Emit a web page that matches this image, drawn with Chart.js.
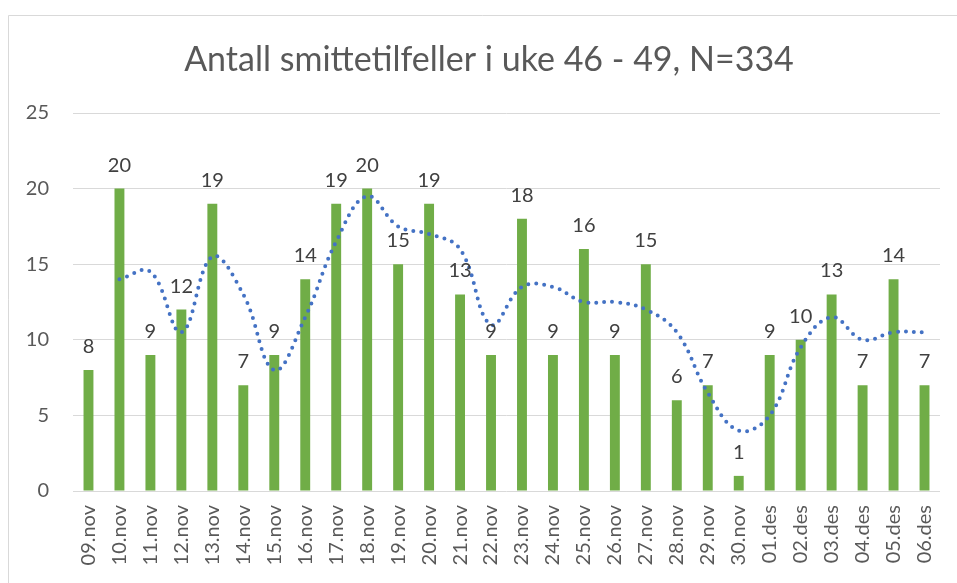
<!DOCTYPE html>
<html>
<head>
<meta charset="utf-8">
<script src="https://cdn.jsdelivr.net/npm/chart.js@4/dist/chart.umd.min.js"></script>
<style>
html,body{margin:0;padding:0;background:#fff;}
#wrap{position:relative;width:957px;height:583px;}
</style>
</head>
<body>
<div id="wrap"><canvas id="c" width="957" height="583"></canvas></div>
<script>
const titleText = "Antall smittetilfeller i uke 46 - 49, N=334";
const categories = ["09.nov","10.nov","11.nov","12.nov","13.nov","14.nov","15.nov","16.nov","17.nov","18.nov","19.nov","20.nov","21.nov","22.nov","23.nov","24.nov","25.nov","26.nov","27.nov","28.nov","29.nov","30.nov","01.des","02.des","03.des","04.des","05.des","06.des"];
const cases = [8,20,9,12,19,7,9,14,19,20,15,19,13,9,18,9,16,9,15,6,7,1,9,10,13,7,14,7];
const trend = [null,14,14.5,10.5,15.5,13,8,11.5,16.5,19.5,17.5,17,16,11,13.5,13.5,12.5,12.5,12,10.5,6.5,4,5,9.5,11.5,10,10.5,10.5];
const yTicks = [0,5,10,15,20,25];

const FONT = "Lato";
const TXT = "#595959";
const GRID = "#d9d9d9";

const framePlugin = {
  id: "frame",
  beforeDraw(chart) {
    const ctx = chart.ctx;
    ctx.save();
    ctx.fillStyle = "#fff";
    ctx.fillRect(0, 0, chart.width, chart.height);
    ctx.strokeStyle = GRID;
    ctx.lineWidth = 1;
    ctx.beginPath();
    ctx.moveTo(8.5, chart.height);
    ctx.lineTo(8.5, 15.5);
    ctx.lineTo(chart.width, 15.5);
    ctx.stroke();
    // title (centred on the original, wider chart frame)
    ctx.fillStyle = TXT;
    ctx.font = "34px " + FONT;
    ctx.textAlign = "center";
    ctx.textBaseline = "alphabetic";
    ctx.fillText(chart.options.plugins.customTitle.text, 489, 71);
    ctx.restore();
  }
};

const labelPlugin = {
  id: "barLabels",
  afterDatasetsDraw(chart) {
    const ctx = chart.ctx;
    const idx = chart.data.datasets.findIndex(d => d.type === "bar");
    const meta = chart.getDatasetMeta(idx);
    ctx.save();
    ctx.fillStyle = "#404040";
    ctx.font = "20px " + FONT;
    ctx.textAlign = "center";
    ctx.textBaseline = "alphabetic";
    meta.data.forEach((bar, i) => {
      ctx.fillText(String(chart.data.datasets[idx].data[i]), bar.x, bar.y - 17);
    });
    ctx.restore();
  }
};

new Chart(document.getElementById("c"), {
  data: {
    labels: categories,
    datasets: [
      {
        type: "line",
        data: trend,
        borderColor: "#4472C4",
        borderWidth: 4,
        borderDash: [0, 8],
        borderCapStyle: "round",
        pointRadius: 0,
        tension: 0.4,
        fill: false,
        order: 0
      },
      {
        type: "bar",
        data: cases,
        backgroundColor: "#70AD47",
        barPercentage: 0.32,
        categoryPercentage: 1,
        order: 1
      }
    ]
  },
  options: {
    responsive: false,
    animation: false,
    layout: { padding: { left: 0, right: 17, top: 113, bottom: 0 } },
    plugins: {
      legend: { display: false },
      tooltip: { enabled: false },
      title: { display: false },
      customTitle: { text: titleText }
    },
    scales: {
      x: {
        grid: { display: false },
        border: { display: false },
        ticks: {
          color: TXT,
          font: { family: FONT, size: 20 },
          minRotation: 90,
          maxRotation: 90,
          padding: 6,
          autoSkip: false
        },
        afterFit(scale) { scale.height = 92; }
      },
      y: {
        min: 0,
        max: 25,
        afterBuildTicks(scale) { scale.ticks = yTicks.map(v => ({ value: v })); },
        grid: { color: GRID, lineWidth: 1, drawTicks: false },
        border: { display: false },
        ticks: {
          color: TXT,
          font: { family: FONT, size: 20 },
          padding: 24
        },
        afterFit(scale) { scale.width = 73; }
      }
    }
  },
  plugins: [framePlugin, labelPlugin]
});
</script>
</body>
</html>
